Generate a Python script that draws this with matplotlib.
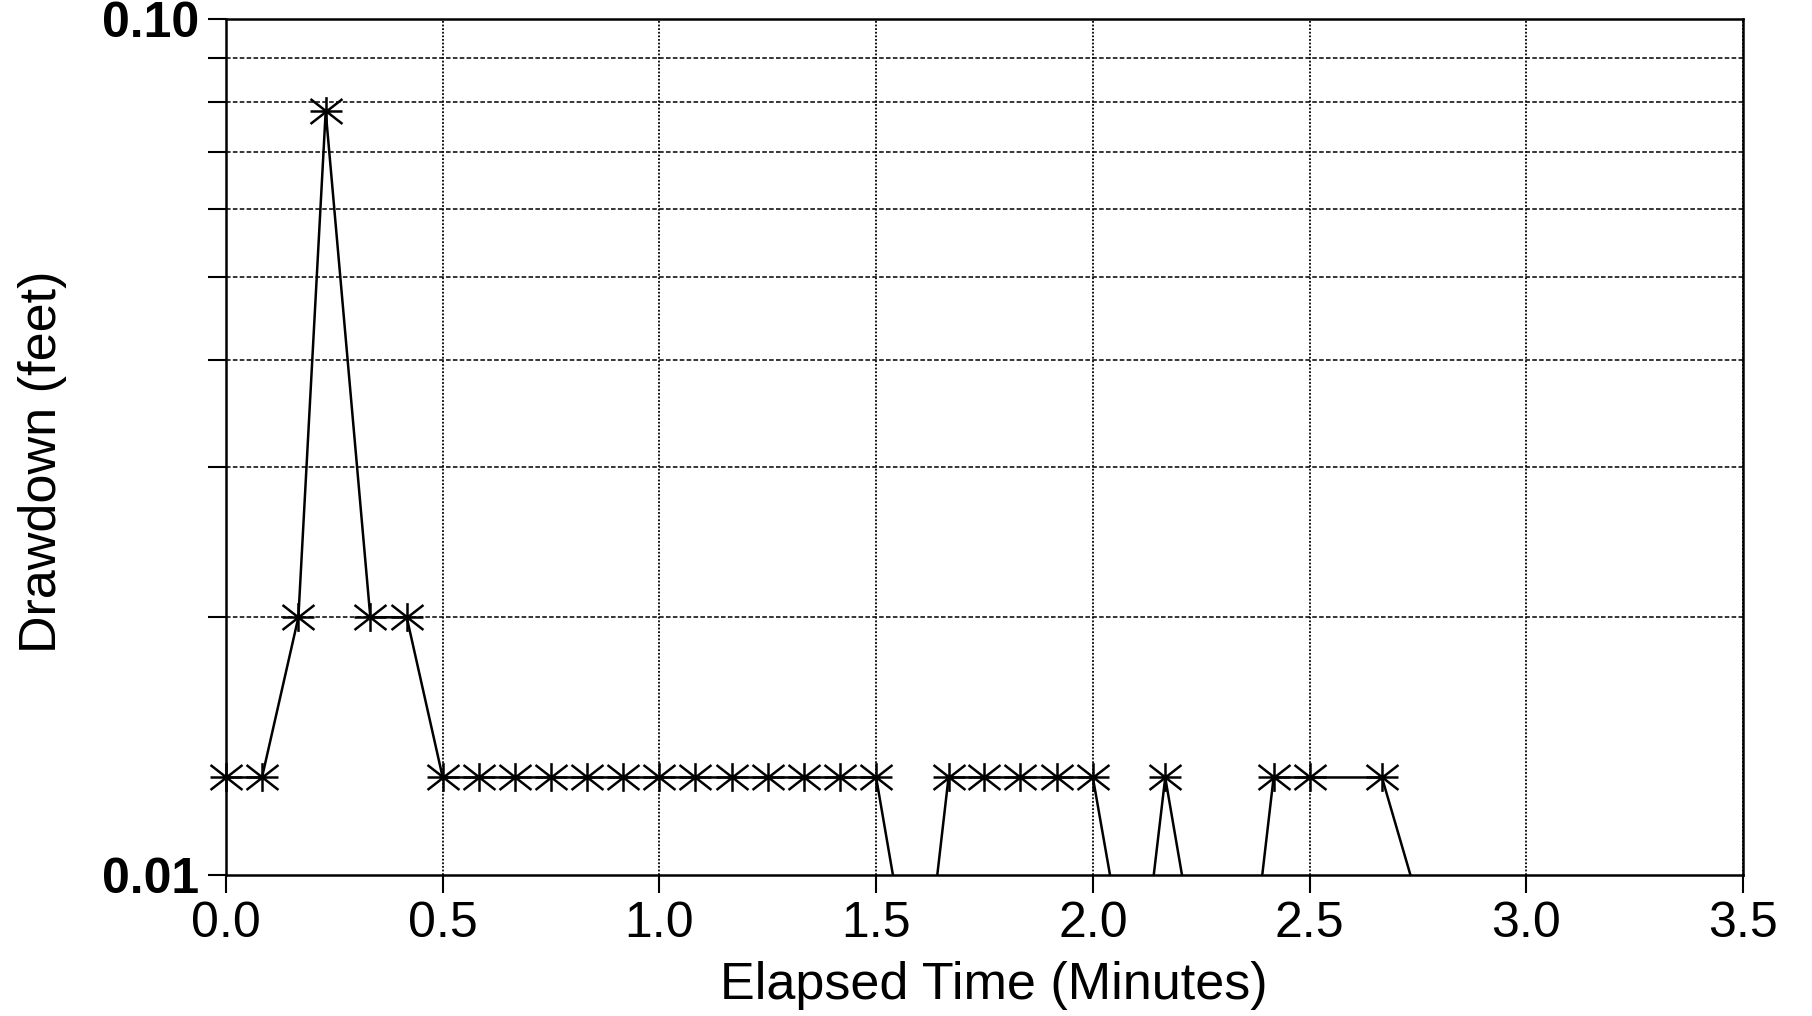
import matplotlib
matplotlib.use("Agg")
import matplotlib.pyplot as plt
from matplotlib.path import Path
from matplotlib.ticker import FixedLocator, FixedFormatter, FormatStrFormatter, LogLocator, NullFormatter
import numpy as np

# ---- data ----
elapsed_min = [0.0, 0.083, 0.167, 0.23, 0.333, 0.417,
               0.5, 0.583, 0.667, 0.75, 0.833, 0.917, 1.0, 1.083, 1.167, 1.25, 1.333, 1.417, 1.5,
               1.6,
               1.667, 1.75, 1.833, 1.917, 2.0,
               2.1,
               2.167,
               2.25, 2.333,
               2.417, 2.5, 2.667,
               2.833]
drawdown_ft = [0.013, 0.013, 0.02, 0.078, 0.02, 0.02,
               0.013, 0.013, 0.013, 0.013, 0.013, 0.013, 0.013, 0.013, 0.013, 0.013, 0.013, 0.013, 0.013,
               0.0066,
               0.013, 0.013, 0.013, 0.013, 0.013,
               0.0067,
               0.013,
               0.0074, 0.0056,
               0.013, 0.013, 0.013,
               0.0067]
x_ticks = [0.0, 0.5, 1.0, 1.5, 2.0, 2.5, 3.0, 3.5]
y_major = [0.01, 0.1]
y_major_labels = ["0.01", "0.10"]

plt.rcParams['font.family'] = ['Liberation Sans', 'DejaVu Sans']

fig = plt.figure(figsize=(18.12, 10.16), dpi=100)
ax = fig.add_axes([226/1812, 1 - 875/1016, (1743-226)/1812, (875-19)/1016])

# asterisk-like marker: horizontal, vertical, two diagonals
verts = [(-1, 0), (1, 0), (0, -0.9), (0, 0.9), (-1, -0.78), (1, 0.78), (-1, 0.78), (1, -0.78)]
codes = [Path.MOVETO, Path.LINETO] * 4
star = Path(verts, codes)

x = np.array(elapsed_min)
y = np.array(drawdown_ft)
ax.plot(x, y, color='black', lw=1.8, zorder=3)
vis = y >= 0.01
ax.plot(x[vis], y[vis], linestyle='none', marker=star, markersize=23,
        markeredgewidth=1.8, color='black', clip_on=False, zorder=4)

ax.set_yscale('log')
ax.set_xlim(0, 3.5)
ax.set_ylim(0.01, 0.1)

ax.yaxis.set_major_locator(FixedLocator(y_major))
ax.yaxis.set_major_formatter(FixedFormatter(y_major_labels))
ax.yaxis.set_minor_locator(LogLocator(base=10, subs=np.arange(2, 10)))
ax.yaxis.set_minor_formatter(NullFormatter())
ax.xaxis.set_major_locator(FixedLocator(x_ticks))
ax.xaxis.set_major_formatter(FormatStrFormatter('%.1f'))

ax.tick_params(axis='y', which='both', direction='out', length=13, width=1.5, pad=6)
ax.tick_params(axis='x', which='major', direction='out', length=13, width=1.5, pad=6)
for lab in ax.get_yticklabels():
    lab.set_fontsize(36)
    lab.set_fontweight('bold')
for lab in ax.get_xticklabels():
    lab.set_fontsize(36)

ax.grid(True, which='minor', axis='y', color='black', linestyle=(0, (3, 1.5)), linewidth=1.1)
ax.grid(True, which='major', axis='x', color='black', linestyle=(0, (1, 1)), linewidth=1.3)

for s in ax.spines.values():
    s.set_linewidth(1.8)

ax.set_xlabel("Elapsed Time (Minutes)", fontsize=37.5, va='center')
ax.xaxis.set_label_coords(994/1812, 1 - 985/1016, transform=fig.transFigure)
ax.set_ylabel("Drawdown (feet)", fontsize=37.5, va='center')
ax.yaxis.set_label_coords(43/1812, 1 - 462/1016, transform=fig.transFigure)

fig.savefig("out.png", dpi=100)
